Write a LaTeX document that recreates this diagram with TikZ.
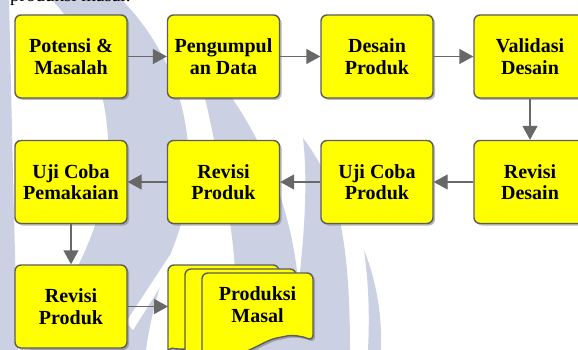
\documentclass[tikz,border=0pt]{standalone}
\usepackage{fontspec}
\setmainfont{Liberation Serif}
\usepackage{tikz}
\usetikzlibrary{arrows.meta,shadows}
\definecolor{boxyel}{RGB}{255,255,0}
\definecolor{boxline}{RGB}{92,92,92}
\definecolor{flowgray}{RGB}{104,104,104}
\definecolor{wmark}{RGB}{204,208,227}
\tikzset{
  sbox/.style={rectangle, rounded corners=6pt, draw=boxline, line width=1.4pt, fill=boxyel,
    minimum width=112pt, minimum height=83pt, inner sep=0pt, align=center,
    font=\fontsize{20}{21.5}\selectfont\bfseries,
    drop shadow={shadow xshift=2pt, shadow yshift=-2pt, fill=black!55, opacity=0.5}},
  dsheet/.style={draw=boxline, line width=1.4pt, fill=boxyel, rounded corners=6pt,
    drop shadow={shadow xshift=2pt, shadow yshift=-2pt, fill=black!55, opacity=0.5}},
  dtxt/.style={inner sep=0pt, align=center, font=\fontsize{20}{21.5}\selectfont\bfseries},
  flow/.style={-{Triangle[length=14pt,width=15pt]}, flowgray, line width=1.4pt},
  wm/.style={fill=wmark, draw=none},
}
% one sheet of the stacked documents, top left corner at (#1,#2)
\newcommand{\msheet}[2]{%
  \path[dsheet] (#1,#2+95) -- (#1,#2) -- (#1+111,#2) -- (#1+111,#2+68)
    .. controls (#1+100,#2+63) and (#1+90,#2+62) .. (#1+80,#2+64)
    .. controls (#1+65,#2+67) and (#1+50,#2+77) .. (#1+35,#2+81)
    .. controls (#1+20,#2+85) and (#1+8,#2+84) .. (#1,#2+82) -- cycle;}

\begin{document}
\begin{tikzpicture}[x=1pt,y=-1pt]
  \useasboundingbox (0,0) rectangle (578,350);
  \clip (0,0) rectangle (578,350);
  \fill[wm] (0,0) -- (9,0) .. controls (12,120) and (14,240) .. (18,350) -- (0,350) -- cycle;
  \fill[wm] (52,0) -- (122,0) .. controls (190,70) and (205,170) .. (172,250)
    .. controls (158,290) and (150,320) .. (146,350) -- (30,350)
    .. controls (60,300) and (100,240) .. (108,170) .. controls (112,100) and (90,40) .. (52,0) -- cycle;
  \fill[white] (170,255) -- (176,262) -- (133,330) -- (126,322) -- cycle;
  \fill[wm] (190,45) .. controls (240,100) and (275,160) .. (292,240)
    .. controls (300,280) and (302,320) .. (300,350) -- (235,350)
    .. controls (238,300) and (236,240) .. (222,180) .. controls (212,130) and (205,90) .. (190,45) -- cycle;
  \fill[wm] (303,138) .. controls (335,180) and (350,230) .. (350,350) -- (290,350)
    .. controls (300,280) and (310,200) .. (303,138) -- cycle;
  \fill[wm] (364,250) .. controls (378,285) and (382,320) .. (381,350) -- (368,350)
    .. controls (370,310) and (368,280) .. (364,250) -- cycle;

  \node[anchor=base west, inner sep=0pt, font=\fontsize{19}{21}\selectfont] (cap) at (10,2) {produksi masal.};

  \node[sbox] (pot) at (71,56.5) {Potensi \&\\Masalah};
  \node[sbox] (pdt) at (223.5,56.5) {Pengumpul\\an Data};
  \node[sbox] (dsp) at (377,56.5) {Desain\\Produk};
  \node[sbox] (vds) at (530,56.5) {Validasi\\Desain};
  \node[sbox] (rds) at (530,182) {Revisi\\Desain};
  \node[sbox] (ucp) at (377,182) {Uji Coba\\Produk};
  \node[sbox] (rp1) at (223.5,182) {Revisi\\Produk};
  \node[sbox] (ucm) at (71,182) {Uji Coba\\Pemakaian};
  \node[sbox] (rp2) at (71,306.5) {Revisi\\Produk};

  \msheet{168}{265}
  \msheet{185}{269}
  \msheet{202}{273}
  \node[dtxt] (pms) at (257.5,304.5) {Produksi\\Masal};
  \coordinate (pmin) at (168,306.5);

  \draw[flow] (pot) -- (pdt);
  \draw[flow] (pdt) -- (dsp);
  \draw[flow] (dsp) -- (vds);
  \draw[flow] (vds) -- (rds);
  \draw[flow] (rds) -- (ucp);
  \draw[flow] (ucp) -- (rp1);
  \draw[flow] (rp1) -- (ucm);
  \draw[flow] (ucm) -- (rp2);
  \draw[flow] (rp2) -- (pmin);
\end{tikzpicture}
\end{document}
